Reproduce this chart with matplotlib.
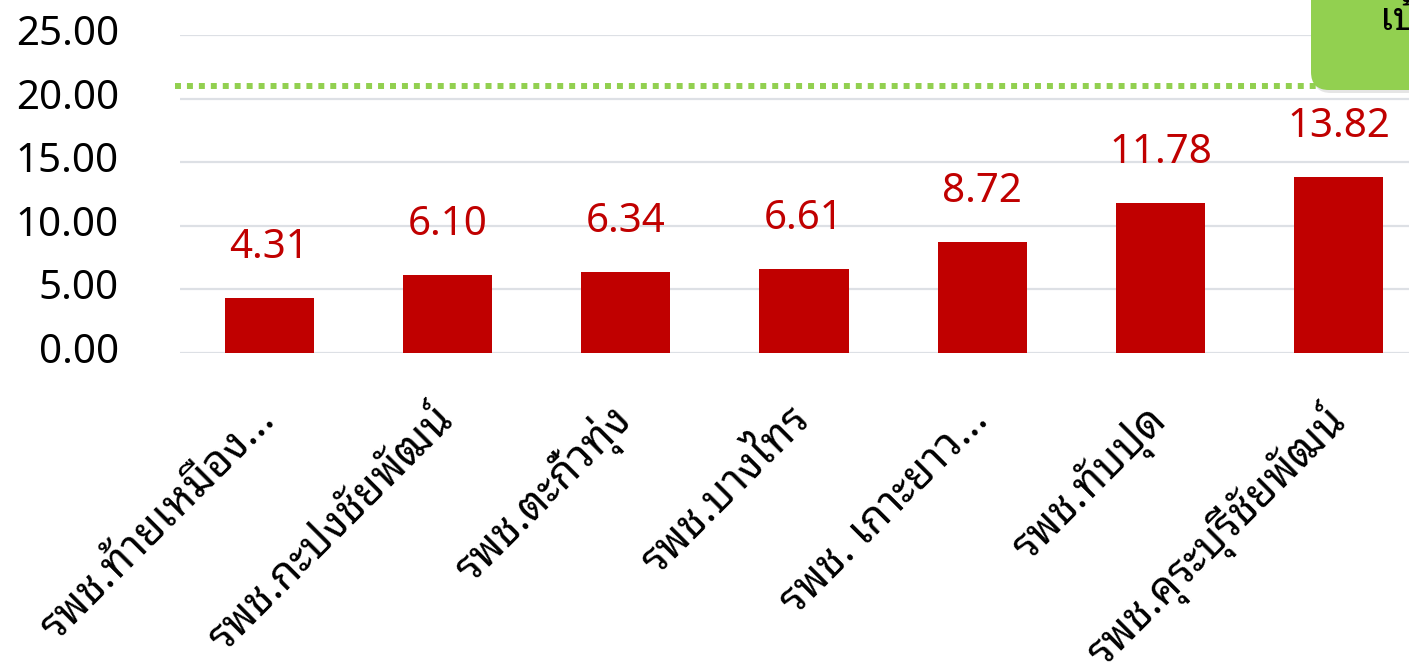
import matplotlib
matplotlib.use("Agg")
import matplotlib.pyplot as plt
from matplotlib.patches import FancyBboxPatch

plt.rcParams['font.family'] = ['Noto Sans Thai Looped', 'DejaVu Sans']

hospitals = ['รพช.ท้ายเหมือง...', 'รพช.กะปงชัยพัฒน์', 'รพช.ตะกั่วทุ่ง', 'รพช.บางไทร',
             'รพช. เกาะยาว...', 'รพช.ทับปุด', 'รพช.คุระบุรีชัยพัฒน์']
values = [4.31, 6.10, 6.34, 6.61, 8.72, 11.78, 13.82]
target = 21
target_label = 'เป้าหมาย'

W, H = 1409, 670
fig = plt.figure(figsize=(W / 100, H / 100), dpi=100)
# axes runs a bit past the right edge, like the cropped original
ax = fig.add_axes([180 / W, 1 - 353 / H, 1248 / W, 318 / H])

x = range(len(values))
ax.bar(x, values, width=0.5, color='#C00000', zorder=3)
for i, v in zip(x, values):
    ax.annotate('%.2f' % v, (i, v), xytext=(0, 29), textcoords='offset points',
                ha='center', va='baseline', fontsize=29, color='#C00000')

ax.plot([-0.53, 6.5], [target, target], color='#92D050', lw=4.3,
        ls=(0, (1, 1)), dash_capstyle='butt', clip_on=False, zorder=4)

ax.set_xlim(-0.5, 6.5)
ax.set_ylim(0, 25)
ax.set_yticks(range(0, 26, 5))
ax.set_yticklabels(['%.2f' % t for t in range(0, 26, 5)], fontsize=29, va='center')
ax.set_xticks(list(x))
ax.set_xticklabels(hospitals, rotation=45, ha='right', va='center',
                   rotation_mode='anchor', fontsize=31)
ax.tick_params(axis='both', length=0)
ax.tick_params(axis='y', pad=44)
ax.tick_params(axis='x', pad=44)
ax.grid(axis='y', color='#DDE0E5', lw=1.6, zorder=0)
for s in ax.spines.values():
    s.set_visible(False)

# green target box in the top right corner (pixel coords)
shadow = FancyBboxPatch((1313, 577), 160, 160, boxstyle='round,pad=0,rounding_size=18',
                        transform=None, facecolor='#000000', alpha=0.1, edgecolor='none', zorder=5)
box = FancyBboxPatch((1311, 580), 160, 160, boxstyle='round,pad=0,rounding_size=18',
                     transform=None, facecolor='#92D050', edgecolor='none', zorder=6)
fig.patches.extend([shadow, box])
fig.text(1380 / W, 1 - 20 / H, target_label, ha='left', va='center', fontsize=28,
         color='black', zorder=7)

fig.savefig('out.png', dpi=100)
